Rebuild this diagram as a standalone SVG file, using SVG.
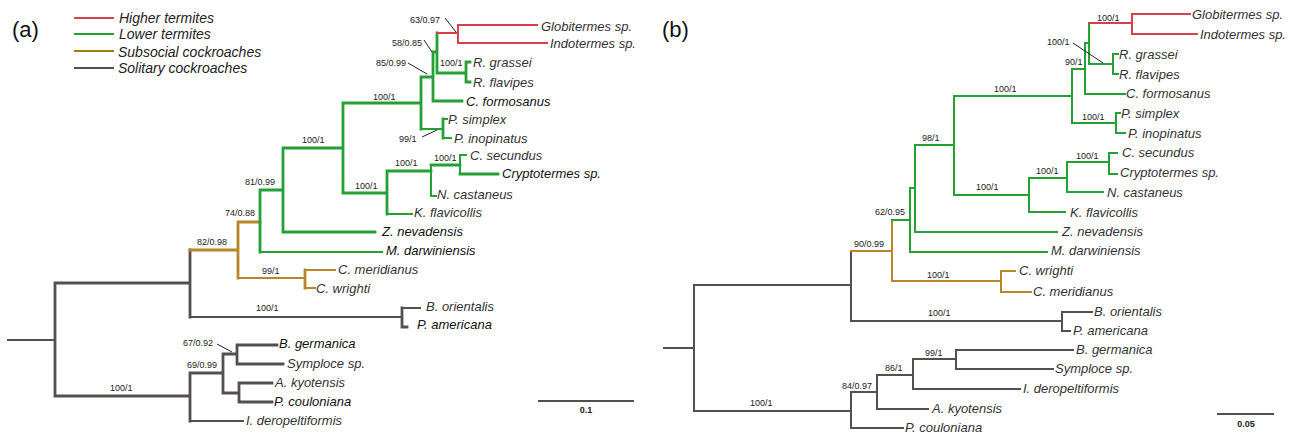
<svg xmlns="http://www.w3.org/2000/svg" width="1298" height="433" viewBox="0 0 1298 433">
<style>
.b{fill:none;stroke-linecap:square;stroke-width:2}
.t{stroke-width:2.8}
.r{stroke:#d6424c}
.g{stroke:#25a035}
.o{stroke:#b8862a}
.k{stroke:#554f4f}
.ld{stroke:#222;stroke-width:1;fill:none}
.sp{font-family:"Liberation Sans",Arial,sans-serif;font-style:italic;font-size:13px;fill:#333}
.spb{fill:#111}
.s{font-family:"Liberation Sans",Arial,sans-serif;font-size:9px;fill:#222}
.lg{font-family:"Liberation Sans",Arial,sans-serif;font-style:italic;font-size:14px;fill:#222}
.pl{font-family:"Liberation Sans",Arial,sans-serif;font-size:22px;fill:#111}
.sc{font-family:"Liberation Sans",Arial,sans-serif;font-size:9px;font-weight:bold;fill:#222;text-anchor:middle}
</style>
<rect width="1298" height="433" fill="#fff"/>
<text class="pl" x="12" y="37">(a)</text>
<text class="pl" x="662" y="37">(b)</text>
<g id="legend">
<path class="b r" d="M75,18 H113" stroke-width="3"/>
<path class="b g" d="M75,34 H113" stroke-width="3"/>
<path class="b o" d="M75,51 H113" stroke-width="3" style="stroke:#9a8010"/>
<path class="b k" d="M75,68 H113" stroke-width="3"/>
<text class="lg" x="119" y="23">Higher termites</text>
<text class="lg" x="119" y="39">Lower termites</text>
<text class="lg" x="118" y="57">Subsocial cockroaches</text>
<text class="lg" x="118" y="73">Solitary cockroaches</text>
</g>
<g id="connectors-a">
<path class="b k" d="M8,340 H55"/>
<path class="b k t" d="M55,283 V396 M55,283 H190 M190,250 V317 M55,396 H190 M190,373 V421 M190,373 H223 M223,354 V393 M223,354 H237 M237,345 V364 M237,345 H277 M237,364 H283 M223,393 H239 M239,383 V402 M239,383 H272 M239,402 H272 M402,308 V327 M402,327 H407"/>
<path class="b k" d="M190,421 H243 M402,308 H420"/>
<path class="b k" d="M190,317 H402" stroke-width="2.5"/>
<path class="b o t" d="M190,250 H238 M238,222 V278 M305,270 V288 M238,222 H260"/>
<path class="b o" d="M238,278 H305 M305,270 H335 M305,288 H315"/>
<path class="b g t" d="M260,190 V252 M260,190 H283 M283,148 V232 M283,232 H375 M283,148 H343 M343,103 V193 M343,103 H421 M343,193 H387 M387,171 V214 M387,171 H431 M431,165 H460 M460,174 H498 M421,77 V129 M443,119 V138 M421,77 H433 M433,52 V101 M433,101 H462 M433,52 H437 M437,33 V73 M437,73 H466 M466,62 V82 M466,62 H470 M466,82 H470"/>
<path class="b g" d="M260,252 H382 M387,214 H412 M431,165 V196 M431,196 H436 M460,155 V174 M460,155 H466 M421,129 H443 M443,119 H447 M443,138 H451"/>
<path class="b r" d="M437,33 H458 M458,25 V43 M458,25 H537 M458,43 H547"/>
<path class="ld" d="M445,18 L456,32 M424,40 L432,52 M408,63 L427,74 M422,137 L437,130 M217,344 L232,352"/>
<path class="b k" d="M539,401 H633" stroke-width="2.5"/>
</g>
<g id="support-a">
<text class="s" x="410" y="23">63/0.97</text>
<text class="s" x="392" y="46">58/0.85</text>
<text class="s" x="440" y="66">100/1</text>
<text class="s" x="376" y="66">85/0.99</text>
<text class="s" x="373" y="100">100/1</text>
<text class="s" x="302" y="143">100/1</text>
<text class="s" x="399" y="142">99/1</text>
<text class="s" x="434" y="161">100/1</text>
<text class="s" x="395" y="166">100/1</text>
<text class="s" x="245" y="185">81/0.99</text>
<text class="s" x="355" y="189">100/1</text>
<text class="s" x="225" y="216">74/0.88</text>
<text class="s" x="197" y="245">82/0.98</text>
<text class="s" x="262" y="274">99/1</text>
<text class="s" x="256" y="311">100/1</text>
<text class="s" x="183" y="346">67/0.92</text>
<text class="s" x="187" y="368">69/0.99</text>
<text class="s" x="110" y="391">100/1</text>
<text class="sc" x="586" y="413">0.1</text>
</g>
<g id="leaves-a">
<g id="a-globitermes"><text class="sp" x="541" y="31">Globitermes sp.</text></g>
<g id="a-indotermes"><text class="sp" x="550" y="48">Indotermes sp.</text></g>
<g id="a-rgrassei"><text class="sp" x="473" y="67">R. grassei</text></g>
<g id="a-rflavipes"><text class="sp" x="473" y="87">R. flavipes</text></g>
<g id="a-cformosanus"><text class="sp spb" x="466" y="106">C. formosanus</text></g>
<g id="a-psimplex"><text class="sp" x="448" y="124">P. simplex</text></g>
<g id="a-pinopinatus"><text class="sp" x="454" y="143">P. inopinatus</text></g>
<g id="a-csecundus"><text class="sp" x="470" y="160">C. secundus</text></g>
<g id="a-cryptotermes"><text class="sp spb" x="502" y="178">Cryptotermes sp.</text></g>
<g id="a-ncastaneus"><text class="sp" x="437" y="199">N. castaneus</text></g>
<g id="a-kflavicollis"><text class="sp" x="414" y="217">K. flavicollis</text></g>
<g id="a-znevadensis"><text class="sp spb" x="382" y="236">Z. nevadensis</text></g>
<g id="a-mdarwiniensis"><text class="sp spb" x="386" y="255">M. darwiniensis</text></g>
<g id="a-cmeridianus"><text class="sp" x="338" y="274">C. meridianus</text></g>
<g id="a-cwrighti"><text class="sp" x="316" y="293">C. wrighti</text></g>
<g id="a-borientalis"><text class="sp" x="426" y="311">B. orientalis</text></g>
<g id="a-pamericana"><text class="sp spb" x="417" y="329">P. americana</text></g>
<g id="a-bgermanica"><text class="sp spb" x="279" y="348">B. germanica</text></g>
<g id="a-symploce"><text class="sp" x="287" y="368">Symploce sp.</text></g>
<g id="a-akyotensis"><text class="sp" x="275" y="387">A. kyotensis</text></g>
<g id="a-pcouloniana"><text class="sp spb" x="274" y="406">P. couloniana</text></g>
<g id="a-ideropeltiformis"><text class="sp" x="246" y="425">I. deropeltiformis</text></g>
</g>
<g id="connectors-b">
<path class="b k" d="M664,348 H694"/>
<path class="b k" stroke-width="2.5" d="M694,285 V411 M694,285 H851 M851,251 V321 M851,321 H1062 M1062,312 V331 M1062,312 H1092 M1062,331 H1070 M694,411 H851 M851,392 V428 M851,392 H877 M877,375 V409 M877,409 H928 M877,375 H913 M913,359 V389 M913,389 H1020 M913,359 H956"/>
<path class="b k" d="M851,428 H903 M956,350 V369 M956,350 H1073 M956,369 H1053"/>
<path class="b o" stroke-width="2.5" d="M851,251 H892 M892,220 V281 M892,281 H1001"/>
<path class="b o" d="M1001,271 V292 M1001,271 H1015 M1001,292 H1031"/>
<path class="b g" stroke-width="2.5" d="M910,188 V252 M910,252 H1047 M954,96 V195 M954,195 H1029 M1029,178 H1067 M1067,162 V192 M1067,192 H1103 M1109,153 V174 M1109,153 H1117 M1109,174 H1117 M1089,64 H1113 M1113,54 V74 M1113,54 H1118 M1113,74 H1118"/>
<path class="b g" d="M892,220 H910 M910,188 H915 M915,145 V232 M915,232 H1057 M915,145 H954 M954,96 H1072 M1029,178 V212 M1029,212 H1065 M1067,162 H1109 M1072,69 V123 M1072,123 H1116 M1116,113 V133 M1116,113 H1120 M1116,133 H1125 M1072,69 H1085 M1085,43 V94 M1085,94 H1125 M1085,43 H1089 M1089,23 V64"/>
<path class="b r" d="M1089,23 H1132 M1132,14 V34 M1132,14 H1190 M1132,34 H1197"/>
<path class="ld" d="M1073,43 L1103,63"/>
<path class="b k" d="M1218,414 H1273" stroke-width="2.5"/>
</g>
<g id="support-b">
<text class="s" x="1097" y="21">100/1</text>
<text class="s" x="1047" y="45">100/1</text>
<text class="s" x="1065" y="65">90/1</text>
<text class="s" x="994" y="92">100/1</text>
<text class="s" x="1082" y="120">100/1</text>
<text class="s" x="922" y="141">98/1</text>
<text class="s" x="1076" y="159">100/1</text>
<text class="s" x="1036" y="174">100/1</text>
<text class="s" x="976" y="190">100/1</text>
<text class="s" x="875" y="215">62/0.95</text>
<text class="s" x="854" y="247">90/0.99</text>
<text class="s" x="927" y="278">100/1</text>
<text class="s" x="928" y="316">100/1</text>
<text class="s" x="925" y="356">99/1</text>
<text class="s" x="885" y="371">86/1</text>
<text class="s" x="842" y="389">84/0.97</text>
<text class="s" x="750" y="406">100/1</text>
<text class="sc" x="1246" y="427">0.05</text>
</g>
<g id="leaves-b">
<g id="b-globitermes"><text class="sp" x="1192" y="19">Globitermes sp.</text></g>
<g id="b-indotermes"><text class="sp" x="1200" y="39">Indotermes sp.</text></g>
<g id="b-rgrassei"><text class="sp" x="1119" y="59">R. grassei</text></g>
<g id="b-rflavipes"><text class="sp" x="1119" y="79">R. flavipes</text></g>
<g id="b-cformosanus"><text class="sp" x="1126" y="98">C. formosanus</text></g>
<g id="b-psimplex"><text class="sp" x="1121" y="118">P. simplex</text></g>
<g id="b-pinopinatus"><text class="sp" x="1128" y="138">P. inopinatus</text></g>
<g id="b-csecundus"><text class="sp" x="1122" y="157">C. secundus</text></g>
<g id="b-cryptotermes"><text class="sp" x="1120" y="177">Cryptotermes sp.</text></g>
<g id="b-ncastaneus"><text class="sp" x="1107" y="197">N. castaneus</text></g>
<g id="b-kflavicollis"><text class="sp" x="1070" y="217">K. flavicollis</text></g>
<g id="b-znevadensis"><text class="sp" x="1062" y="236">Z. nevadensis</text></g>
<g id="b-mdarwiniensis"><text class="sp" x="1051" y="255">M. darwiniensis</text></g>
<g id="b-cwrighti"><text class="sp" x="1019" y="275">C. wrighti</text></g>
<g id="b-cmeridianus"><text class="sp" x="1033" y="296">C. meridianus</text></g>
<g id="b-borientalis"><text class="sp" x="1094" y="316">B. orientalis</text></g>
<g id="b-pamericana"><text class="sp" x="1073" y="335">P. americana</text></g>
<g id="b-bgermanica"><text class="sp" x="1076" y="354">B. germanica</text></g>
<g id="b-symploce"><text class="sp" x="1055" y="373">Symploce sp.</text></g>
<g id="b-ideropeltiformis"><text class="sp" x="1023" y="393">I. deropeltiformis</text></g>
<g id="b-akyotensis"><text class="sp" x="932" y="413">A. kyotensis</text></g>
<g id="b-pcouloniana"><text class="sp" x="905" y="432">P. couloniana</text></g>
</g>
</svg>
